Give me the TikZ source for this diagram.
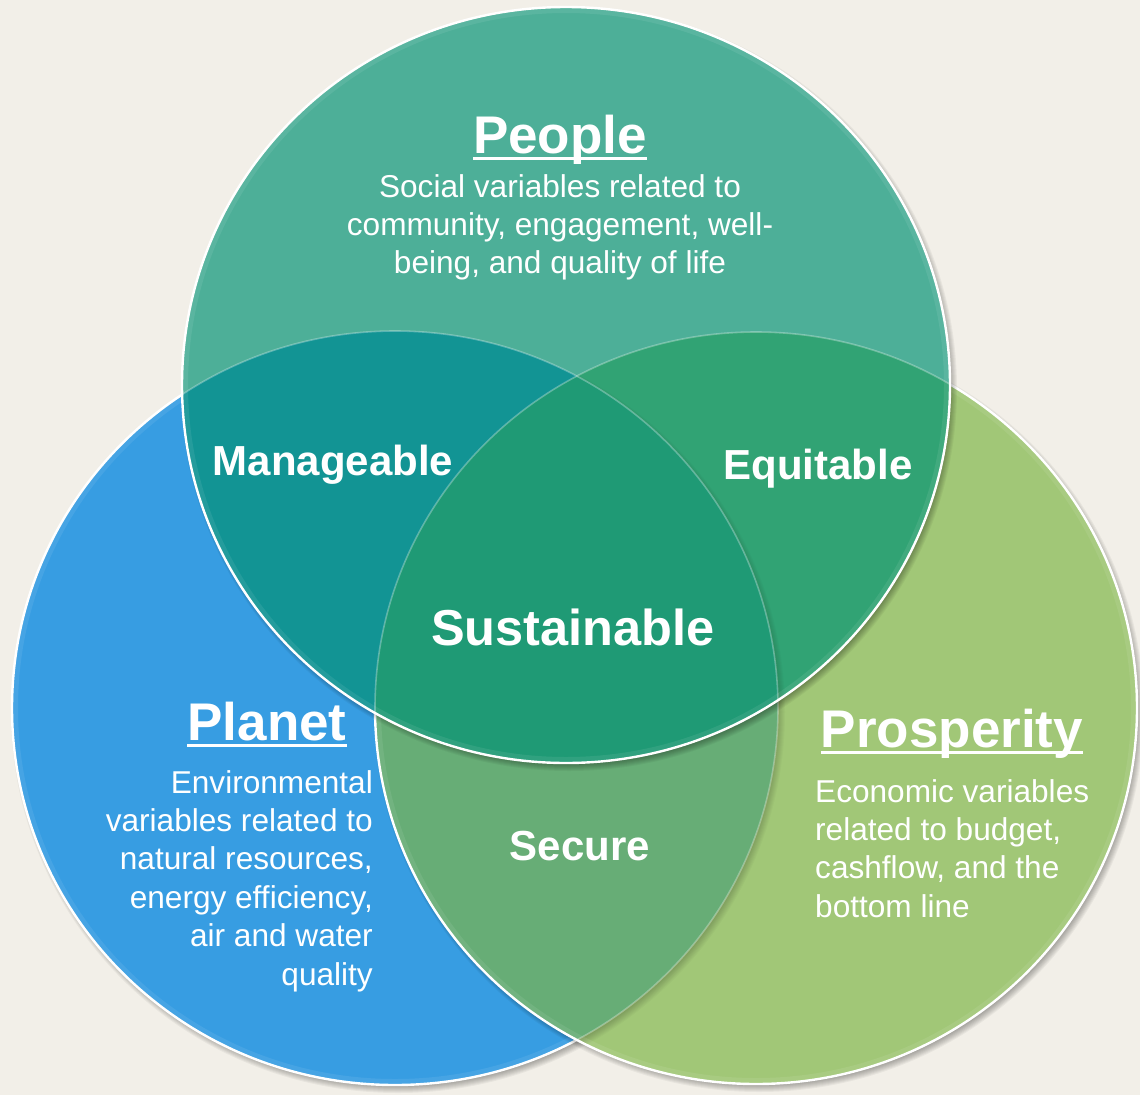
\documentclass[tikz,border=0pt]{standalone}
\usepackage{fontspec}
\setmainfont{Liberation Sans}
\definecolor{bgc}{HTML}{F2EFE8}
\definecolor{pplc}{HTML}{4DAF98}
\definecolor{plac}{HTML}{379DE2}
\definecolor{proc}{HTML}{A1C777}
\definecolor{manc}{HTML}{129494}
\definecolor{equc}{HTML}{31A374}
\definecolor{secc}{HTML}{67AD76}
\definecolor{susc}{HTML}{1F9A75}
\newcommand\castshadow[5]{%
  \foreach \k in {0,...,7}{\fill[black, opacity=#5] (#1+3,#2+4) ellipse [x radius={(#3-3+\k)*1pt}, y radius={(#4-3+\k)*1pt}];}}
\newcommand\ultext[1]{\setbox0=\hbox{#1}\rlap{\rule[-7pt]{\wd0}{3.2pt}}\box0}
\begin{document}
\begin{tikzpicture}[x=1pt,y=-1pt,
  ppath/.style={insert path={(566,385) ellipse [x radius=384pt, y radius=378pt]}},
  lpath/.style={insert path={(395,708) ellipse [x radius=383pt, y radius=377pt]}},
  rpath/.style={insert path={(756,708) ellipse [x radius=381pt, y radius=376pt]}},
  strongedge/.style={draw=white, line width=2.4pt},
  faintedge/.style={draw=white, draw opacity=0.3, line width=1.6pt},
  bevel/.style={draw=white, draw opacity=0.08, line width=12pt},
  title/.style={font=\fontsize{53}{60}\selectfont\bfseries, text=white, inner sep=0pt, anchor=base},
  lbl/.style={font=\fontsize{42}{48}\selectfont\bfseries, text=white, inner sep=0pt, anchor=base},
  body/.style={font=\fontsize{31.6}{38.4}\selectfont, text=white, inner sep=0pt},
]
\useasboundingbox (0,0) rectangle (1140,1095);
\clip (0,0) rectangle (1140,1095);
\fill[bgc] (0,0) rectangle (1140,1095);
% Planet
\castshadow{395}{708}{383}{377}{0.045}
\fill[plac, lpath];
\begin{scope}\clip[lpath]; \draw[bevel, lpath]; \end{scope}
\draw[strongedge, lpath];
% Prosperity
\castshadow{756}{708}{381}{376}{0.045}
\fill[proc, rpath];
\begin{scope}
  \clip[rpath];
  \castshadow{395}{708}{383}{377}{0.025}
  \fill[secc, lpath];
  \draw[faintedge, lpath];
  \draw[bevel, rpath];
\end{scope}
\draw[strongedge, rpath];
% People
\castshadow{566}{385}{384}{378}{0.045}
\fill[pplc, ppath];
\begin{scope}
  \clip[ppath];
  \fill[equc, rpath];
  \begin{scope}\clip[rpath]; \castshadow{395}{708}{383}{377}{0.02} \end{scope}
  \fill[manc, lpath];
  \begin{scope}\clip[lpath]; \fill[susc, rpath]; \end{scope}
  \draw[faintedge, lpath];
  \draw[faintedge, rpath];
  \draw[bevel, ppath];
\end{scope}
\draw[strongedge, ppath];
% Titles
\node[title] (people) at (560,153) {\ultext{People}};
\node[title] (planet) at (267,740) {\ultext{Planet}};
\node[title] (prosperity) at (952,747) {\ultext{Prosperity}};
% Descriptions
\node[body, anchor=north, align=center] (peopletext) at (560,174) {Social variables related to\\community, engagement, well-\\being, and quality of life};
\node[body, anchor=north east, align=right] (planettext) at (373,770) {Environmental\\variables related to\\natural resources,\\energy efficiency,\\air and water\\quality};
\node[body, anchor=north west, align=left] (prostext) at (815,779) {Economic variables\\related to budget,\\cashflow, and the\\bottom line};
% Region labels
\node[lbl] (manageable) at (333,475) {Manageable};
\node[lbl] (equitable) at (818,479) {Equitable};
\node[lbl, font=\fontsize{50.5}{56}\selectfont\bfseries] (sustainable) at (573,645) {Sustainable};
\node[lbl] (secure) at (580,860) {Secure};
\end{tikzpicture}
\end{document}
